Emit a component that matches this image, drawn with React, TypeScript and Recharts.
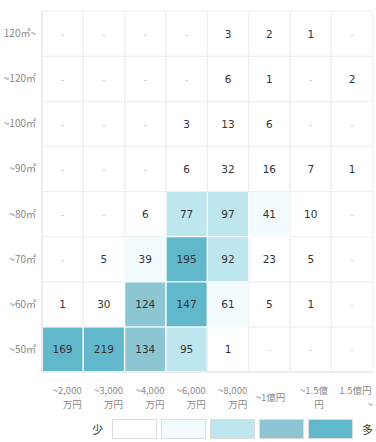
import { BarChart, Bar, XAxis, YAxis } from "recharts";

// price bands (x axis), each split into label lines
const priceLabels = [
  ["~2,000", "万円"],
  ["~3,000", "万円"],
  ["~4,000", "万円"],
  ["~6,000", "万円"],
  ["~8,000", "万円"],
  ["~1億円"],
  ["~1.5億", "円"],
  ["1.5億円", "~"],
];

// floor-area bands, bottom to top
const areaLabels = ["~50㎡", "~60㎡", "~70㎡", "~80㎡", "~90㎡", "~100㎡", "~120㎡", "120㎡~"];

// counts per area band (bottom to top), one value per price band; null = "-"
const area50 = [169, 219, 134, 95, 1, null, null, null];
const area60 = [1, 30, 124, 147, 61, 5, 1, null];
const area70 = [null, 5, 39, 195, 92, 23, 5, null];
const area80 = [null, null, 6, 77, 97, 41, 10, null];
const area90 = [null, null, null, 6, 32, 16, 7, 1];
const area100 = [null, null, null, 3, 13, 6, null, null];
const area120 = [null, null, null, null, 6, 1, null, 2];
const area120plus = [null, null, null, null, 3, 2, 1, null];

const counts = [area50, area60, area70, area80, area90, area100, area120, area120plus];

const levelColors = ["#ffffff", "#f2fbfd", "#bde6ef", "#8dc6d3", "#62b8cb"];
const levelThresholds = [35, 70, 110, 140];

const FONT = "'Noto Sans CJK JP', 'DejaVu Sans', sans-serif";

function levelOf(v: number | null) {
  if (v == null) return 0;
  let lvl = 0;
  levelThresholds.forEach((t) => {
    if (v >= t) lvl++;
  });
  return lvl;
}

const data = priceLabels.map((lines, i) => {
  const row: Record<string, unknown> = { price: lines.join("") };
  counts.forEach((_, k) => {
    row[`r${k}`] = 1;
  });
  return row;
});

function makeCell(k: number) {
  return (props: any) => {
    const { x, y, width, height, index } = props;
    const v = counts[k][index];
    const lvl = levelOf(v);
    return (
      <g>
        <rect
          x={x}
          y={y}
          width={width}
          height={height}
          fill={levelColors[lvl]}
          stroke={lvl === 0 ? "#eeeeee" : "#ffffff"}
          strokeWidth={1}
        />
        <text
          x={x + width / 2}
          y={y + height / 2 + 4}
          textAnchor="middle"
          fontFamily="'DejaVu Sans', sans-serif"
          fontSize={v == null ? 9 : 10.5}
          fill={v == null ? "#bbbbbb" : "#333333"}
        >
          {v == null ? "-" : v}
        </text>
      </g>
    );
  };
}

function PriceTick(props: any) {
  const { x, y, index } = props;
  const lines = priceLabels[index];
  const style = { fontFamily: FONT, fontSize: 9.5, fill: "#888888" };
  if (lines.length === 1) {
    return (
      <text x={x + 1} y={y + 29} textAnchor="middle" {...style}>
        {lines[0]}
      </text>
    );
  }
  if (lines[1] === "万円") {
    return (
      <g>
        <text x={x + 19} y={y + 22} textAnchor="end" {...style}>
          {lines[0]}
        </text>
        <text x={x + 19} y={y + 36} textAnchor="end" {...style}>
          {lines[1]}
        </text>
      </g>
    );
  }
  const second = lines[1] === "円" ? x + 8 : x + 18;
  return (
    <g>
      <text x={x + 3} y={y + 22} textAnchor="middle" {...style}>
        {lines[0]}
      </text>
      <text x={second} y={y + 36} textAnchor="middle" {...style}>
        {lines[1]}
      </text>
    </g>
  );
}

export default function App() {
  return (
    <div
      style={{
        position: "absolute",
        left: 0,
        top: 0,
        width: 376,
        height: 442,
        background: "#fff",
      }}
    >
      <BarChart
        width={376}
        height={414}
        data={data}
        barCategoryGap={0}
        margin={{ top: 11, right: 3, left: 0, bottom: 0 }}
      >
        <XAxis
          dataKey="price"
          type="category"
          height={42}
          tickLine={false}
          tickSize={0}
          tickMargin={0}
          axisLine={{ stroke: "#eeeeee", strokeWidth: 2 }}
          tick={PriceTick}
          interval={0}
        />
        <YAxis
          type="number"
          domain={[0, 8]}
          ticks={[0.5, 1.5, 2.5, 3.5, 4.5, 5.5, 6.5, 7.5]}
          tickFormatter={(v: number) => areaLabels[Math.floor(v)]}
          width={42}
          tickLine={false}
          tickSize={0}
          tickMargin={6}
          axisLine={{ stroke: "#eeeeee", strokeWidth: 2 }}
          tick={{ fontFamily: FONT, fontSize: 10, fill: "#888888" }}
        />
        {counts.map((_, k) => (
          <Bar
            key={k}
            dataKey={`r${k}`}
            stackId="grid"
            isAnimationActive={false}
            shape={makeCell(k)}
          />
        ))}
      </BarChart>
      <div
        style={{
          position: "absolute",
          left: 92,
          top: 419,
          display: "flex",
          alignItems: "center",
          fontFamily: FONT,
          fontSize: 11,
          color: "#333",
        }}
      >
        <span style={{ marginRight: 9, lineHeight: "19px" }}>少</span>
        {levelColors.map((c) => (
          <div
            key={c}
            style={{
              width: 43,
              height: 18,
              background: c,
              border: "1px solid #dddddd",
              marginRight: 4,
              boxSizing: "content-box",
            }}
          />
        ))}
        <span style={{ marginLeft: 5, lineHeight: "19px" }}>多</span>
      </div>
    </div>
  );
}
